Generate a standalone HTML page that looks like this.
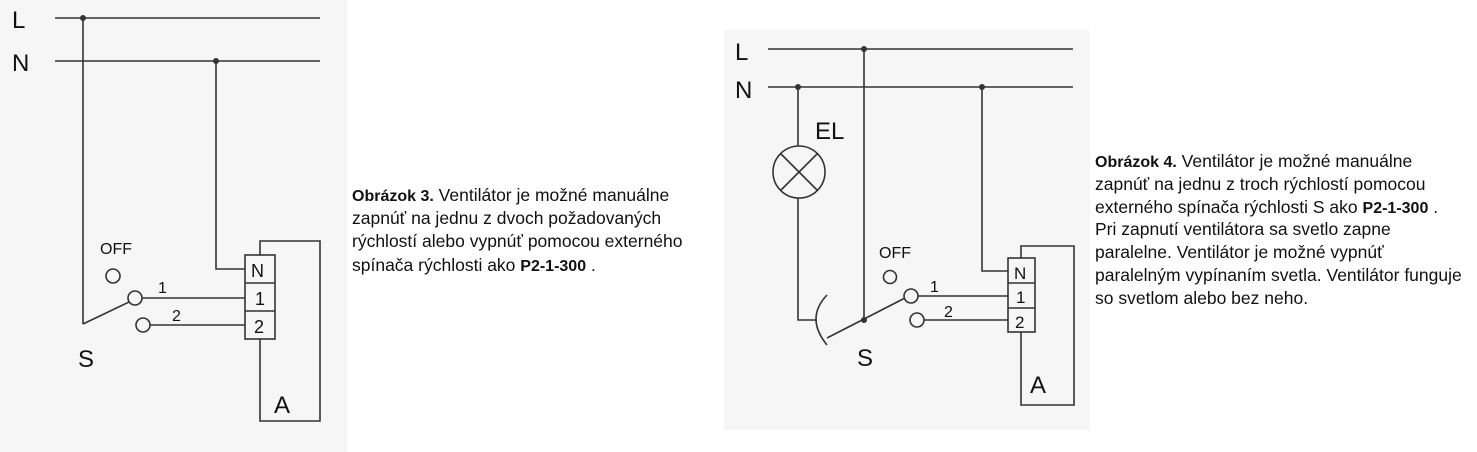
<!DOCTYPE html>
<html><head><meta charset="utf-8"><style>
html,body{margin:0;padding:0;background:#fff;}
svg{display:block;}
text{font-family:"Liberation Sans",Arial,sans-serif;fill:#111;}
</style></head><body>
<svg width="1477" height="452" viewBox="0 0 1477 452" xmlns="http://www.w3.org/2000/svg">
<rect x="0" y="0" width="347" height="452" fill="#f6f6f6"/>
<rect x="724" y="30" width="366" height="400" fill="#f6f6f6"/>
<g stroke="#333" stroke-width="1.6" fill="none">
<line x1="55" y1="18" x2="320" y2="18"/>
<line x1="55" y1="61" x2="320" y2="61"/>
<line x1="83" y1="18" x2="83" y2="324"/>
<line x1="83" y1="324" x2="129" y2="302"/>
<circle cx="113" cy="276" r="7"/>
<circle cx="135" cy="298" r="7"/>
<circle cx="143" cy="325" r="7"/>
<polyline points="216,61 216,269 245,269"/>
<rect x="245" y="255" width="30" height="84"/>
<line x1="245" y1="283" x2="275" y2="283"/>
<line x1="245" y1="311" x2="275" y2="311"/>
<polyline points="260,255 260,241 320,241 320,421 260,421 260,339"/>
<line x1="142" y1="298" x2="245" y2="298"/>
<line x1="150" y1="325" x2="245" y2="325"/>
<line x1="768" y1="49" x2="1073" y2="49"/>
<line x1="768" y1="87" x2="1073" y2="87"/>
<line x1="798" y1="87" x2="798" y2="146"/>
<circle cx="799" cy="172" r="26"/>
<line x1="781" y1="154" x2="817" y2="190"/>
<line x1="817" y1="154" x2="781" y2="190"/>
<polyline points="798,198 798,320 817,320"/>
<path d="M827,295 Q805,318 827,345"/>
<line x1="864" y1="49" x2="864" y2="320"/>
<line x1="827" y1="338" x2="905" y2="298"/>
<circle cx="890" cy="277" r="6.5"/>
<circle cx="911" cy="296" r="7"/>
<circle cx="917" cy="320" r="7"/>
<line x1="918" y1="296" x2="1008" y2="296"/>
<line x1="924" y1="320" x2="1008" y2="320"/>
<polyline points="982,87 982,271 1008,271"/>
<rect x="1008" y="258" width="27" height="74"/>
<line x1="1008" y1="283" x2="1035" y2="283"/>
<line x1="1008" y1="308" x2="1035" y2="308"/>
<polyline points="1021,258 1021,246 1074,246 1074,405 1021,405 1021,332"/>
</g>
<g fill="#333">
<circle cx="83" cy="18" r="3"/><circle cx="216" cy="61" r="3"/>
<circle cx="864" cy="49" r="3"/><circle cx="798" cy="87" r="3"/><circle cx="982" cy="87" r="3"/><circle cx="864" cy="320" r="3"/>
</g>
<text x="12" y="28" font-size="24">L</text>
<text x="12" y="71" font-size="24">N</text>
<text x="100" y="254" font-size="16">OFF</text>
<text x="158" y="293" font-size="16">1</text>
<text x="172" y="321" font-size="16">2</text>
<text x="78" y="367" font-size="24">S</text>
<text x="251" y="277" font-size="18">N</text>
<text x="255" y="305" font-size="18">1</text>
<text x="254" y="333" font-size="18">2</text>
<text x="274" y="413" font-size="24">A</text>

<text x="735" y="60" font-size="24">L</text>
<text x="735" y="98" font-size="24">N</text>
<text x="815" y="139" font-size="24">EL</text>
<text x="879" y="258" font-size="16">OFF</text>
<text x="930" y="292" font-size="16">1</text>
<text x="944" y="317" font-size="16">2</text>
<text x="857" y="366" font-size="24">S</text>
<text x="1014" y="279" font-size="17">N</text>
<text x="1016" y="303" font-size="17">1</text>
<text x="1015" y="328" font-size="17">2</text>
<text x="1030" y="393" font-size="24">A</text>

<g font-size="17.5">
<text x="352" y="201"><tspan font-weight="bold" font-size="16">Obrázok 3.</tspan>  Ventilátor je možné manuálne</text>
<text x="352" y="224">zapnúť na jednu z dvoch požadovaných</text>
<text x="352" y="247">rýchlostí alebo vypnúť pomocou externého</text>
<text x="352" y="271">spínača rýchlosti ako  <tspan font-weight="bold" font-size="16">P2-1-300</tspan> .</text>

<text x="1095" y="167"><tspan font-weight="bold" font-size="16">Obrázok 4.</tspan>  Ventilátor je možné manuálne</text>
<text x="1095" y="190">zapnúť na jednu z troch rýchlostí pomocou</text>
<text x="1095" y="213">externého spínača rýchlosti S ako  <tspan font-weight="bold" font-size="16">P2-1-300</tspan> .</text>
<text x="1095" y="235">Pri zapnutí ventilátora sa svetlo zapne</text>
<text x="1095" y="258">paralelne. Ventilátor je možné vypnúť</text>
<text x="1095" y="281">paralelným vypínaním svetla. Ventilátor funguje</text>
<text x="1095" y="304">so svetlom alebo bez neho.</text>
</g>
</svg>
</body></html>
